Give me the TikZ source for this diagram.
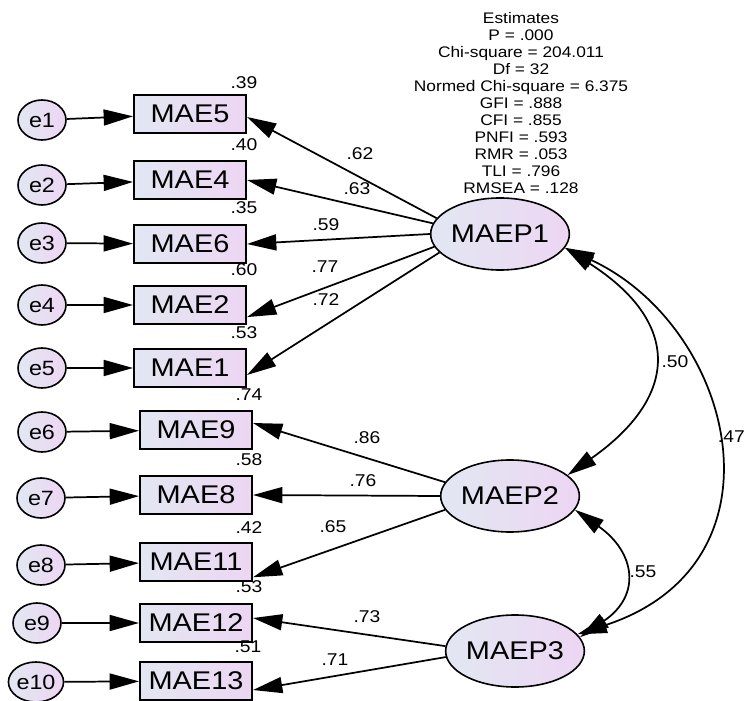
\documentclass[tikz,border=0pt]{standalone}
\usepackage{fontspec}
\setmainfont{Liberation Sans}[FakeStretch=1.13]
\usepackage{tikz}
\usetikzlibrary{arrows.meta, shapes.geometric}

\definecolor{shadeL}{RGB}{226,231,242}
\definecolor{shadeR}{RGB}{237,214,243}

\begin{document}
\begin{tikzpicture}[
      x=0.75pt, y=0.75pt,
      obs/.style={draw, line width=1.5pt, minimum width=84pt,
                  minimum height=28.5pt, inner sep=0pt,
                  left color=shadeL, right color=shadeR,
                  font=\fontsize{19.2}{22}\selectfont},
      lat/.style={draw, ellipse, line width=1.2pt, minimum width=97.5pt,
                  minimum height=54pt, inner sep=0pt,
                  left color=shadeL, right color=shadeR,
                  font=\fontsize{19.2}{22}\selectfont},
      err/.style={draw, ellipse, line width=1.2pt, minimum width=36pt,
                  minimum height=30pt, inner sep=0pt,
                  left color=shadeL, right color=shadeR,
                  font=\fontsize{15.5}{18}\selectfont},
      arr/.style={-{Triangle[length=22pt, width=12pt]}, line width=1.3pt},
      cov/.style={{Triangle[length=22pt, width=12pt]}-{Triangle[length=22pt, width=12pt]},
                  line width=1.3pt},
      lbl/.style={font=\fontsize{12.8}{15}\selectfont, inner sep=0pt},
  ]
  \useasboundingbox (0,0) rectangle (745,700);

  %% fit indices
  \node[anchor=north, align=center, inner sep=0pt,
        font=\fontsize{11.5}{12.75}\selectfont] (fit) at (521,688)
       {Estimates\\P = .000\\Chi-square = 204.011\\Df = 32\\
        Normed Chi-square = 6.375\\GFI = .888\\CFI = .855\\PNFI = .593\\
        RMR = .053\\TLI = .796\\RMSEA = .128};

  %% latent factors
  \node[lat] (maep1) at (500,466) {MAEP1};
  \node[lat] (maep2) at (510,204) {MAEP2};
  \node[lat] (maep3) at (515,49)  {MAEP3};

  %% indicators
  \node[obs] (mae5)  at (190,586) {MAE5};
  \node[obs] (mae4)  at (190,520) {MAE4};
  \node[obs] (mae6)  at (190,456) {MAE6};
  \node[obs] (mae2)  at (190,395) {MAE2};
  \node[obs] (mae1)  at (190,332) {MAE1};
  \node[obs] (mae9)  at (196,270) {MAE9};
  \node[obs] (mae8)  at (196,205) {MAE8};
  \node[obs] (mae11) at (196,138) {MAE11};
  \node[obs] (mae12) at (196,77)  {MAE12};
  \node[obs] (mae13) at (196,19)  {MAE13};

  %% error terms
  \node[err] (e1)  at (42,580) {e1};
  \node[err] (e2)  at (42,515) {e2};
  \node[err] (e3)  at (42,457) {e3};
  \node[err] (e4)  at (42,395) {e4};
  \node[err] (e5)  at (42,332) {e5};
  \node[err] (e6)  at (42,268) {e6};
  \node[err] (e7)  at (41,202) {e7};
  \node[err] (e8)  at (41,135) {e8};
  \node[err] (e9)  at (37,77)  {e9};
  \node[err] (e10) at (36,18)  {e10};

  %% error arrows
  \draw[arr] (e1)  -- (mae5);
  \draw[arr] (e2)  -- (mae4);
  \draw[arr] (e3)  -- (mae6);
  \draw[arr] (e4)  -- (mae2);
  \draw[arr] (e5)  -- (mae1);
  \draw[arr] (e6)  -- (mae9);
  \draw[arr] (e7)  -- (mae8);
  \draw[arr] (e8)  -- (mae11);
  \draw[arr] (e9)  -- (mae12);
  \draw[arr] (e10) -- (mae13);

  %% loadings
  \draw[arr] (maep1.166) -- (mae5.-3);
  \draw[arr] (maep1.171) -- (mae4.east);
  \draw[arr] (maep1.180) -- (mae6.east);
  \draw[arr] (maep1.191) -- (mae2.-12);
  \draw[arr] (maep1.197) -- (mae1.-7);
  \draw[arr] (maep2.168) -- (mae9.7);
  \draw[arr] (maep2.180) -- (mae8.east);
  \draw[arr] (maep2.192) -- (mae11.-15);
  \draw[arr] (maep3.176) -- (mae12.5);
  \draw[arr] (maep3.185) -- (mae13.-9);

  %% covariances
  \draw[cov] (maep1.-12) .. controls (681,378) and (680,304) .. (maep2.20);
  \draw[cov] (maep1.-12) .. controls (735,373) and (793,136) .. (maep3.15);
  \draw[cov] (maep2.-12) .. controls (635,148) and (642,105) .. (maep3.12);

  %% loading values
  \node[lbl] (l62) at (360,546) {.62};
  \node[lbl] (l63) at (357,511) {.63};
  \node[lbl] (l59) at (326,475) {.59};
  \node[lbl] (l77) at (325,433) {.77};
  \node[lbl] (l72) at (326,400) {.72};
  \node[lbl] (l86) at (367,262) {.86};
  \node[lbl] (l76) at (363,219) {.76};
  \node[lbl] (l65) at (333,173) {.65};
  \node[lbl] (l73) at (367,83)  {.73};
  \node[lbl] (l71) at (335,40)  {.71};

  %% squared multiple correlations
  \node[lbl] (r5)  at (244,617) {.39};
  \node[lbl] (r4)  at (244,555) {.40};
  \node[lbl] (r6)  at (244,492) {.35};
  \node[lbl] (r2)  at (244,430) {.60};
  \node[lbl] (r1)  at (244,367) {.53};
  \node[lbl] (r9)  at (249,305) {.74};
  \node[lbl] (r8)  at (249,240) {.58};
  \node[lbl] (r11) at (249,172) {.42};
  \node[lbl] (r12) at (249,113) {.53};
  \node[lbl] (r13) at (248,53)  {.51};

  %% correlation values
  \node[lbl] (c12) at (675,338) {.50};
  \node[lbl, anchor=east] (c13) at (745,263) {.47};
  \node[lbl] (c23) at (643,128) {.55};

  \end{tikzpicture}
\end{document}
